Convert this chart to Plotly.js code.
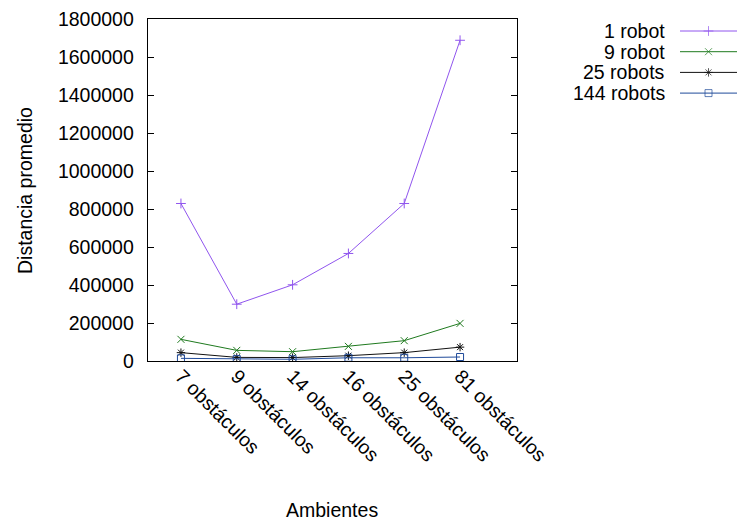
<!DOCTYPE html>
<html>
<head>
<meta charset="utf-8">
<script src="https://cdn.plot.ly/plotly-3.0.1.min.js"></script>
<style>html,body{margin:0;padding:0;background:#fff;}#chart{width:737px;height:521px;}</style>
</head>
<body>
<div id="chart"></div>
<script>
// ---- data ----
const categories = ["7 obstáculos", "9 obstáculos", "14 obstáculos", "16 obstáculos", "25 obstáculos", "81 obstáculos"];
const seriesNames = ["1 robot", "9 robot", "25 robots", "144 robots"];
const robot1 = [829000, 299000, 401000, 566000, 829000, 1688000];
const robot9 = [114000, 56000, 49000, 77000, 107000, 198000];
const robot25 = [44000, 19000, 18000, 28000, 44000, 73000];
const robot144 = [14000, 10000, 9000, 17000, 17000, 21000];
const yTicks = [0, 200000, 400000, 600000, 800000, 1000000, 1200000, 1400000, 1600000, 1800000];

// ---- styles ----
const colors = ["#9055ee", "#1f7a1f", "#111111", "#1f4a9a"];
const symbols = ["cross-thin-open", "x-thin-open", "asterisk-open", "square-open"];
const sizes = [7, 7, 7, 7];
const allSeries = [robot1, robot9, robot25, robot144];

const W = 737, H = 521;
const plotL = 148, plotR = 517, plotT = 19, plotB = 361;
const FONT = "Liberation Sans, Arial, sans-serif";
const FS = 19.5;

const traces = [];
const xIdx = categories.map((c, i) => i);
allSeries.forEach((vals, k) => {
  traces.push({
    x: xIdx, y: vals, type: "scatter", mode: "lines+markers", name: seriesNames[k],
    line: {color: colors[k], width: 1},
    marker: {symbol: symbols[k], size: sizes[k], color: colors[k], line: {color: colors[k], width: 1}},
    showlegend: false, hoverinfo: "skip"
  });
  // key sample
  traces.push({
    x: [0, 0.5, 1], y: [k, k, k], xaxis: "x2", yaxis: "y2", type: "scatter", mode: "lines+markers",
    line: {color: colors[k], width: 1},
    marker: {symbol: symbols[k], size: [0, sizes[k], 0], color: colors[k], line: {color: colors[k], width: 1}},
    showlegend: false, hoverinfo: "skip"
  });
});

const rowTop = 31, rowStep = 20.7;
const keyY0 = 1 - (rowTop - 10) / H;
const keyY1 = 1 - (rowTop + 3 * rowStep + 10) / H;

const annotations = seriesNames.map((n, k) => ({
  text: n, xref: "paper", yref: "y2", x: 667 / W, y: k, xanchor: "right", yanchor: "middle",
  showarrow: false, font: {family: FONT, size: FS, color: "#000"}
}));
annotations.push({
  text: "Ambientes", xref: "paper", yref: "paper", x: 332 / W, y: 1 - 510 / H,
  xanchor: "center", yanchor: "middle", showarrow: false, font: {family: FONT, size: FS, color: "#000"}
});
annotations.push({
  text: "Distancia promedio", xref: "paper", yref: "paper", x: 25 / W, y: 1 - 191 / H, textangle: -90,
  xanchor: "center", yanchor: "middle", showarrow: false, font: {family: FONT, size: FS, color: "#000"}
});

const layout = {
  width: W, height: H,
  margin: {l: 0, r: 0, t: 0, b: 0},
  paper_bgcolor: "#fff", plot_bgcolor: "#fff",
  font: {family: FONT, size: FS, color: "#000"},
  showlegend: false,
  xaxis: {
    domain: [plotL / W, plotR / W], range: [-0.59, 6.02],
    tickvals: xIdx, ticktext: categories, tickangle: 45,
    ticks: "", showline: true, mirror: true, linecolor: "#000", linewidth: 1.3,
    showgrid: false, zeroline: false, automargin: false,
    ticklabelstandoff: -5,
    tickfont: {family: FONT, size: FS}
  },
  yaxis: {
    domain: [1 - plotB / H, 1 - plotT / H], range: [0, 1800000],
    tickvals: yTicks, ticktext: yTicks.map(String),
    ticks: "inside", ticklen: 6, tickcolor: "#000", mirror: "ticks",
    showline: true, linecolor: "#000", linewidth: 1.3,
    showgrid: false, zeroline: false, automargin: false,
    ticklabelstandoff: 9,
    tickfont: {family: FONT, size: FS}
  },
  xaxis2: {domain: [680 / W, 1], range: [0, 1], visible: false, fixedrange: true, anchor: "y2"},
  yaxis2: {domain: [keyY1, keyY0], range: [3 + 10 / rowStep, -10 / rowStep], visible: false, fixedrange: true, anchor: "x2"},
  annotations: annotations
};

Plotly.newPlot("chart", traces, layout, {staticPlot: true, displayModeBar: false});
</script>
</body>
</html>
